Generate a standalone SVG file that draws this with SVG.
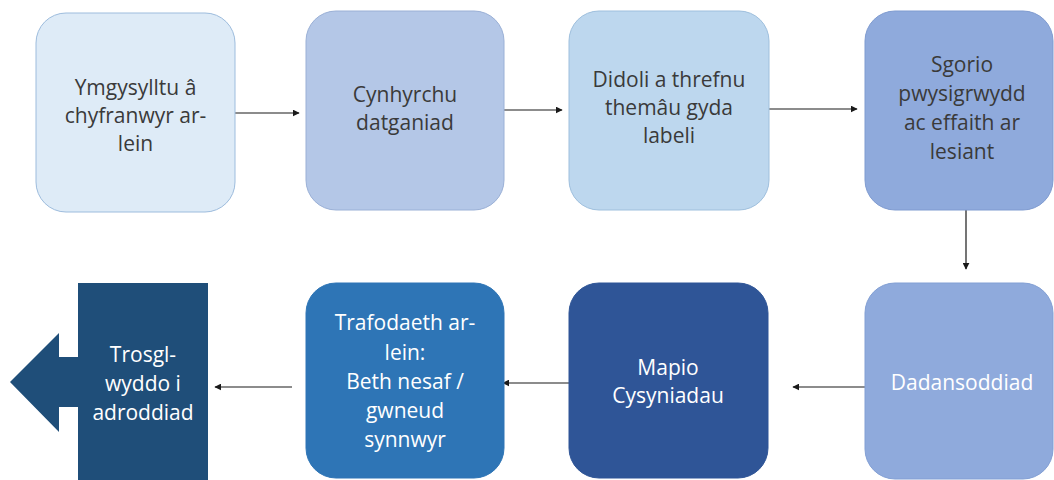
<svg xmlns="http://www.w3.org/2000/svg" width="1054" height="480" viewBox="0 0 1054 480">
<defs>
<style>
.t{font-family:"Open Sans","Liberation Sans",Arial,sans-serif;font-size:21px;text-anchor:middle}
.dk{fill:#3a3a3a}
.wh{fill:#ffffff}
.box{stroke-width:1}
.con{stroke:#1a1a1a;stroke-width:1.2;fill:none;marker-end:url(#ah)}
</style>
<marker id="ah" viewBox="0 0 10 10" refX="9" refY="5" markerWidth="7" markerHeight="7" markerUnits="userSpaceOnUse" orient="auto">
<path d="M0,0 L10,5 L0,10 z" fill="#1a1a1a"/>
</marker>
</defs>
<rect width="1054" height="480" fill="#ffffff"/>
<g id="connectors">
<line class="con" x1="235" y1="113" x2="299" y2="113"/>
<line class="con" x1="504" y1="110" x2="562" y2="110"/>
<line class="con" x1="769" y1="109" x2="857" y2="109"/>
<line class="con" x1="966" y1="210" x2="966" y2="269"/>
<line class="con" x1="865" y1="387" x2="793" y2="387"/>
<line class="con" x1="569" y1="383" x2="503" y2="383"/>
<line class="con" x1="292" y1="387" x2="215" y2="387"/>
</g>
<g id="n1">
<rect class="box" x="36" y="13" width="199" height="199" rx="30" fill="#DEEBF7" stroke="#9DBCDD"/>
<text class="t dk"><tspan x="135.5" y="95">Ymgysylltu â</tspan><tspan x="135.5" y="123">chyfranwyr ar-</tspan><tspan x="135.5" y="151">lein</tspan></text>
</g>
<g id="n2">
<rect class="box" x="306" y="11" width="198" height="199" rx="30" fill="#B4C7E7" stroke="#9AB0D6"/>
<text class="t dk"><tspan x="405" y="102">Cynhyrchu</tspan><tspan x="405" y="130">datganiad</tspan></text>
</g>
<g id="n3">
<rect class="box" x="569" y="11" width="200" height="199" rx="30" fill="#BDD7EE" stroke="#9EBFDD"/>
<text class="t dk"><tspan x="669" y="87">Didoli a threfnu</tspan><tspan x="669" y="115">themâu gyda</tspan><tspan x="669" y="143">labeli</tspan></text>
</g>
<g id="n4">
<rect class="box" x="865" y="11" width="188" height="199" rx="30" fill="#8FAADC" stroke="#7F9BD0"/>
<text class="t dk"><tspan x="962" y="72">Sgorio</tspan><tspan x="962" y="101">pwysigrwydd</tspan><tspan x="962" y="130">ac effaith ar</tspan><tspan x="962" y="159">lesiant</tspan></text>
</g>
<g id="n5">
<rect class="box" x="865" y="283" width="188" height="196" rx="30" fill="#8FAADC" stroke="#829FD4"/>
<text class="t wh" x="962" y="390">Dadansoddiad</text>
</g>
<g id="n6">
<rect class="box" x="569" y="283" width="199" height="195" rx="30" fill="#2F5597" stroke="#2F5597"/>
<text class="t wh"><tspan x="668" y="375">Mapio</tspan><tspan x="668" y="403">Cysyniadau</tspan></text>
</g>
<g id="n7">
<rect class="box" x="306" y="283" width="198" height="195" rx="30" fill="#2E75B6" stroke="#2E75B6"/>
<text class="t wh"><tspan x="405" y="330">Trafodaeth ar-</tspan><tspan x="405" y="360">lein:</tspan><tspan x="405" y="389">Beth nesaf /</tspan><tspan x="405" y="418">gwneud</tspan><tspan x="405" y="447">synnwyr</tspan></text>
</g>
<g id="n8">
<polygon points="78,283 208,283 208,480 78,480 78,407 59,407 59,432 10,382 59,333 59,357 78,357" fill="#1F4E79"/>
<text class="t wh"><tspan x="143" y="362">Trosgl-</tspan><tspan x="143" y="391">wyddo i</tspan><tspan x="143" y="420">adroddiad</tspan></text>
</g>
</svg>
